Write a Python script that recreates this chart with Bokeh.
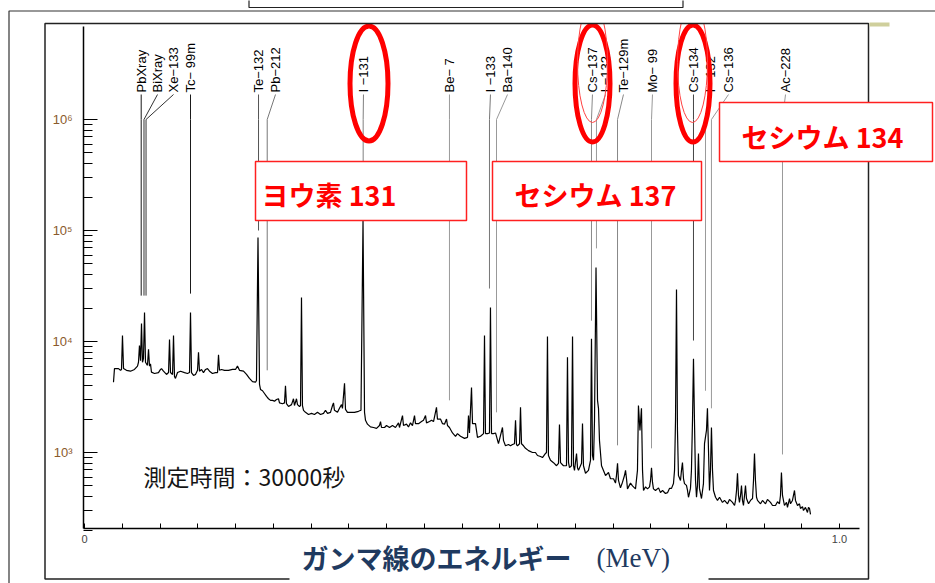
import math
from bokeh.plotting import figure
from bokeh.models import Range1d, FixedTicker, CustomJSTickFormatter, BoxAnnotation, Label
from bokeh.core.properties import value
from bokeh.embed import file_html
from bokeh.resources import INLINE

# ---------------- data ----------------
spec_kev = [
    38.4, 39.7, 45.0, 47.7, 49.0, 50.3, 51.7, 55.6, 60.9, 66.2,
    70.2, 71.5, 72.8, 74.2, 75.5, 76.8, 78.1, 79.5, 80.8, 83.4,
    84.8, 86.1, 87.4, 88.7, 92.7, 98.0, 100.7, 102.0, 104.6, 108.6,
    111.3, 112.6, 113.9, 116.6, 117.9, 119.2, 120.5, 123.2, 127.2, 132.5,
    136.4, 139.1, 140.4, 141.7, 144.4, 147.0, 149.7, 151.0, 152.3, 155.0,
    157.6, 160.3, 162.9, 165.6, 169.5, 173.5, 176.2, 177.5, 178.8, 181.5,
    185.4, 190.7, 196.0, 200.0, 202.6, 205.3, 210.6, 214.6, 218.5, 222.5,
    226.5, 227.8, 229.8, 231.8, 233.1, 235.8, 238.4, 241.1, 243.7, 246.4,
    249.0, 251.7, 254.3, 256.9, 258.3, 262.3, 264.9, 266.2, 267.5, 270.2,
    274.2, 276.8, 278.1, 280.8, 282.1, 284.8, 286.1, 287.4, 288.7, 290.1,
    292.7, 296.7, 300.7, 304.6, 308.6, 312.6, 316.6, 319.2, 321.9, 325.8,
    328.5, 329.8, 331.1, 335.1, 337.7, 340.4, 341.7, 344.4, 345.7, 348.3,
    352.3, 357.6, 362.9, 366.2, 368.9, 370.9, 372.2, 374.8, 378.8, 382.8,
    386.8, 390.7, 392.1, 393.4, 397.4, 400.0, 404.0, 407.9, 411.9, 415.9,
    417.2, 421.2, 422.5, 426.5, 429.1, 431.8, 434.4, 437.1, 438.4, 442.4,
    446.4, 449.0, 451.7, 453.0, 457.0, 459.6, 462.3, 466.2, 467.5, 471.5,
    474.2, 476.8, 479.5, 480.8, 483.4, 487.4, 491.4, 494.0, 498.0, 503.3,
    507.3, 508.6, 509.9, 512.6, 513.9, 517.9, 520.5, 524.5, 528.5, 529.8,
    531.1, 533.8, 536.4, 537.7, 539.1, 541.7, 544.4, 548.3, 553.6, 555.0,
    557.6, 561.6, 564.2, 566.9, 569.5, 570.9, 572.2, 573.5, 576.2, 577.5,
    578.8, 581.5, 584.1, 588.1, 593.4, 597.3, 600.0, 604.0, 606.6, 610.6,
    611.9, 613.2, 614.5, 617.2, 621.2, 625.2, 627.8, 629.1, 630.5, 634.4,
    638.4, 639.7, 641.1, 642.4, 645.0, 646.4, 647.7, 649.0, 651.7, 653.0,
    654.3, 658.3, 659.6, 660.9, 663.6, 667.5, 670.2, 671.5, 672.8, 674.2,
    675.5, 677.5, 679.5, 680.8, 682.1, 684.8, 690.1, 694.0, 696.7, 700.7,
    703.3, 704.6, 706.0, 707.3, 709.9, 712.6, 715.2, 716.6, 717.9, 719.2,
    723.2, 725.8, 729.8, 732.4, 733.7, 735.7, 737.7, 739.1, 740.4, 743.1,
    745.7, 748.4, 749.7, 751.0, 752.3, 753.6, 756.3, 760.3, 762.9, 765.6,
    769.5, 772.2, 774.8, 777.5, 780.1, 781.5, 782.8, 784.1, 785.4, 786.7,
    789.4, 790.7, 792.0, 793.4, 794.7, 797.3, 798.7, 800.0, 802.6, 803.9,
    805.3, 806.6, 807.9, 809.3, 810.6, 811.9, 813.2, 814.5, 817.2, 819.8,
    821.2, 823.8, 825.1, 826.5, 827.8, 829.1, 830.4, 831.8, 833.1, 835.8,
    838.4, 841.1, 845.0, 847.7, 851.7, 854.3, 858.3, 861.0, 862.3, 863.6,
    864.9, 866.2, 867.5, 868.9, 870.2, 871.5, 872.8, 874.2, 875.5, 876.8,
    879.5, 882.1, 884.8, 886.1, 887.4, 888.7, 890.1, 891.4, 895.4, 898.0,
    902.0, 904.6, 908.6, 911.3, 915.2, 917.9, 920.5, 921.8, 923.1, 924.5,
    927.1, 929.8, 931.1, 933.8, 935.1, 937.7, 940.4, 941.7, 944.4, 947.0,
    948.3, 951.0, 952.3, 954.9, 957.6, 958.9, 960.3, 961.6,
]
spec_counts = [
    4300, 5700, 5700, 5500, 5600, 11300, 5700, 5500, 5400, 5600,
    6000, 6500, 9200, 6700, 14500, 6500, 7000, 18200, 6500, 6100,
    8500, 6000, 6300, 5300, 5150, 5250, 5600, 5700, 5400, 5050,
    5250, 10400, 5250, 5050, 11300, 4850, 4650, 5250, 5400, 5250,
    5150, 5250, 18200, 5250, 4950, 5050, 5500, 8000, 5400, 5600,
    5250, 5600, 5700, 5400, 5150, 5250, 5250, 7600, 5500, 5600,
    5500, 5500, 5600, 5600, 6000, 5500, 5400, 5050, 4650, 4350,
    4300, 4450, 86500, 4100, 3700, 3600, 3400, 3200, 3050, 2950,
    2950, 2900, 3000, 3050, 2800, 2750, 2800, 4000, 2750, 2600,
    2700, 3050, 2650, 3050, 2700, 2600, 2650, 24900, 2650, 2400,
    2300, 2200, 2250, 2200, 2300, 2200, 2250, 2400, 2250, 2300,
    2650, 2800, 2400, 2300, 2500, 2700, 2500, 4200, 2450, 2300,
    2300, 2300, 2350, 2400, 123000, 2300, 1950, 1800, 1700, 1680,
    1650, 1750, 1900, 1680, 1680, 1750, 1680, 1750, 1680, 1850,
    1680, 2150, 1750, 1800, 1700, 1850, 1750, 2150, 1820, 1820,
    1900, 1950, 2150, 1850, 1900, 1950, 1900, 2550, 2000, 2000,
    1820, 1800, 2000, 1750, 1680, 1500, 1400, 1480, 1400, 1340,
    1370, 2150, 1500, 3850, 1820, 1820, 1370, 1400, 1480, 11300,
    1480, 1480, 1500, 20200, 1480, 1480, 1500, 1200, 1680, 1280,
    1150, 1180, 1150, 1180, 1200, 1950, 1180, 1150, 1200, 2550,
    1200, 1150, 1090, 1040, 1000, 1000, 940, 920, 900, 980,
    1000, 11100, 940, 850, 810, 760, 800, 1790, 810, 760,
    760, 7200, 810, 730, 760, 11100, 760, 690, 980, 730,
    690, 800, 1820, 760, 650, 690, 850, 10600, 940, 850,
    1950, 46400, 2950, 2500, 1280, 760, 620, 660, 580, 580,
    530, 620, 800, 560, 480, 540, 620, 690, 580, 470,
    530, 500, 470, 690, 2650, 1580, 2500, 690, 455, 490,
    470, 490, 560, 730, 540, 470, 455, 480, 435, 455,
    427, 435, 475, 475, 525, 690, 1950, 29400, 1580, 620,
    560, 690, 810, 580, 525, 505, 455, 395, 475, 690,
    1950, 7000, 1950, 560, 395, 505, 980, 475, 385, 525,
    1200, 1580, 2500, 1040, 455, 690, 1680, 690, 455, 395,
    370, 395, 355, 370, 345, 378, 355, 333, 370, 455,
    650, 410, 355, 410, 505, 370, 333, 410, 505, 385,
    345, 370, 385, 560, 980, 560, 395, 370, 345, 370,
    345, 378, 355, 333, 333, 360, 345, 410, 660, 410,
    333, 355, 320, 385, 345, 370, 455, 370, 333, 345,
    313, 325, 300, 320, 288, 320, 313, 277,
]

nuclide_names = ["PbXray", "BiXray", "Xe\u2212133", "Tc\u2212 99m", "Te\u2212132", "Pb\u2212212",
                 "I \u2212131", "Be\u2212 7", "I \u2212133", "Ba\u2212140", "Cs\u2212137", "I \u2212132",
                 "Te\u2212129m", "Mo\u2212 99", "Cs\u2212134", "I \u2212132", "Cs\u2212136", "Ac\u2212228"]
nuclide_label_kev = [75.1, 96.7, 117.9, 140.4, 230.5, 253.0, 369.5, 483.4, 537.7,
                     560.3, 672.8, 690.1, 713.9, 752.3, 806.6, 829.1, 853.0, 928.5]
nuclide_line_kev = [75.1, 78.8, 81.5, 140.4, 230.5, 242.0, 369.1, 483.4, 536.4,
                    545.7, 671.5, 678.1, 706.0, 751.0, 806.6, 822.5, 830.4, 924.5]
nuclide_line_end_counts = [25900, 25900, 25900, 27000, 100000, 5500, 150000, 2950, 30000,
                           2300, 15400, 69000, 1160, 1090, 10200, 3600, 2500, 960]
nuclide_line_colors = ["#1a1a1a", "#333333", "#333333", "#1a1a1a", "#555555", "#777777",
                       "#808080", "#999999", "#777777", "#999999", "#888888", "#999999",
                       "#888888", "#999999", "#444444", "#999999", "#999999", "#999999"]

y_tick_values = [1e3, 1e4, 1e5, 1e6]
y_tick_labels = ["10\u00b3", "10\u2074", "10\u2075", "10\u2076"]
x_tick_values = [round(0.05 * i, 2) for i in range(21)]
x_label_values = [0.0, 1.0]
x_label_texts = ["0", "1.0"]

x_title = "ガンマ線のエネルギー"
x_unit = "(MeV)"
time_text = "測定時間：30000秒"
iodine_text = "ヨウ素 131"
cs137_text = "セシウム 137"
cs134_text = "セシウム 134"

# ---------------- placement helpers (canvas pixel -> data) ----------------
def X(px):
    return (px - 84.0) / 755.0

def Y(py):
    return 10 ** (3 + (452.0 - py) / 111.0)

W, H = 935, 583
p = figure(width=W, height=H, output_backend="svg", toolbar_location=None,
           y_axis_type="log",
           x_range=Range1d(X(0), X(W)), y_range=Range1d(Y(H), Y(0)),
           min_border_left=0, min_border_right=0, min_border_top=0, min_border_bottom=0)
p.title.visible = False
p.outline_line_color = None
p.background_fill_color = "white"
p.border_fill_color = "white"
p.grid.visible = False

xa = p.xaxis[0]
xa.fixed_location = Y(528)
xa.bounds = (X(83), X(859))
xa.ticker = FixedTicker(ticks=x_tick_values, minor_ticks=[])
xa.formatter = CustomJSTickFormatter(args=dict(vals=x_label_values, labs=x_label_texts), code="""
for (let i = 0; i < vals.length; i++) { if (Math.abs(vals[i] - tick) < 1e-6) return labs[i]; }
return "";
""")
xa.major_tick_in = 5
xa.major_tick_out = 0
xa.minor_tick_in = 0
xa.minor_tick_out = 0
xa.axis_line_width = 1.5
xa.major_label_text_font = "Liberation Sans"
xa.major_label_text_font_size = "11px"
xa.major_label_standoff = 6

ya = p.yaxis[0]
ya.fixed_location = X(83)
ya.bounds = (Y(528), Y(26))
minor = [m * 10 ** e for e in range(2, 6) for m in range(2, 10)]
ya.ticker = FixedTicker(ticks=y_tick_values, minor_ticks=minor)
ya.formatter = CustomJSTickFormatter(args=dict(vals=y_tick_values, labs=y_tick_labels), code="""
for (let i = 0; i < vals.length; i++) { if (Math.abs(vals[i] - tick) < 1e-6 * vals[i]) return labs[i]; }
return "";
""")
ya.major_tick_in = 14
ya.major_tick_out = 0
ya.minor_tick_in = 9
ya.minor_tick_out = 0
ya.axis_line_width = 1.5
ya.major_label_text_font = "Liberation Sans"
ya.major_label_text_font_size = "13px"
ya.major_label_text_color = "#8a5a2b"
ya.major_label_standoff = 11

# spectrum
p.line(x=[e / 1000 for e in spec_kev], y=spec_counts, line_color="black", line_width=1.2)

# nuclide marker lines
xs, ys = [], []
for lk, lnk, end in zip(nuclide_label_kev, nuclide_line_kev, nuclide_line_end_counts):
    xs.append([lk / 1000, lnk / 1000, lnk / 1000])
    ys.append([Y(94), Y(119), end])
p.multi_line(xs=xs, ys=ys, line_color=nuclide_line_colors, line_width=1)

p.text(x=[k / 1000 for k in nuclide_label_kev], y=[Y(92)] * len(nuclide_names), text=nuclide_names,
       angle=math.pi / 2, text_align="left", text_baseline="middle",
       text_font=value("Liberation Sans"), text_font_size=value("13px"), text_color="black")

# red ellipses
p.ellipse(x=[X(368.5), X(592), X(692.5)], y=[Y(83)] * 3, width=[38, 35, 34], height=[115, 117, 117],
          width_units="screen", height_units="screen", fill_color=None, line_color="red", line_width=5)
p.ellipse(x=[X(592), X(692)], y=[Y(62)] * 2, width=[30, 30], height=[120, 120],
          width_units="screen", height_units="screen", fill_color=None, line_color="#ff4040", line_width=1)

def box(l, r, t, b, **kw):
    kw.setdefault("line_alpha", 1.0)
    kw.setdefault("fill_alpha", 1.0)
    p.add_layout(BoxAnnotation(left=X(l), right=X(r), top=Y(t), bottom=Y(b), **kw))

# blank strip above the inner frame (ellipse tops are cut there)
box(9, 960, -10, 22.5, fill_color="white", line_color=None)

# frames
box(8.5, 980, 10.5, 700, fill_color=None, line_color="#333333", line_width=1.2)
box(248.5, 682.5, -10, 7, fill_color=None, line_color="#222222", line_width=1.2)
box(44.5, 868, 23, 578.5, fill_color=None, line_color="#222222", line_width=1.5)
box(289, 708, 570, 700, fill_color="white", line_color=None)
box(869, 889, 22, 26, fill_color="#cfcf9c", line_color=None)

# red annotation boxes
box(255, 466, 161, 220, fill_color="white", line_color="#ff2020", line_width=1.5)
box(492, 701, 161, 220, fill_color="white", line_color="#ff2020", line_width=1.5)
box(719, 932, 102, 161, fill_color="white", line_color="#ff2020", line_width=1.5)

def label(px, py, text, **kw):
    p.add_layout(Label(x=X(px), y=Y(py), text=text, text_baseline="middle", text_align="left", **kw))

red = dict(text_font="Noto Sans CJK JP", text_font_style="bold", text_font_size="27px", text_color="#ff0000")
label(261, 194, iodine_text, **red)
label(514, 194, cs137_text, **red)
label(741, 136, cs134_text, **red)

label(143, 475, time_text, text_font="Noto Sans CJK JP", text_font_size="23px", text_color="#151515")
label(301, 557, x_title, text_font="Noto Sans CJK JP", text_font_style="bold",
      text_font_size="27px", text_color="#1f3a60")
label(596, 557, x_unit, text_font="Liberation Serif", text_font_size="27px", text_color="#1f3a60")

open("out.html", "w").write(file_html(p, INLINE))
